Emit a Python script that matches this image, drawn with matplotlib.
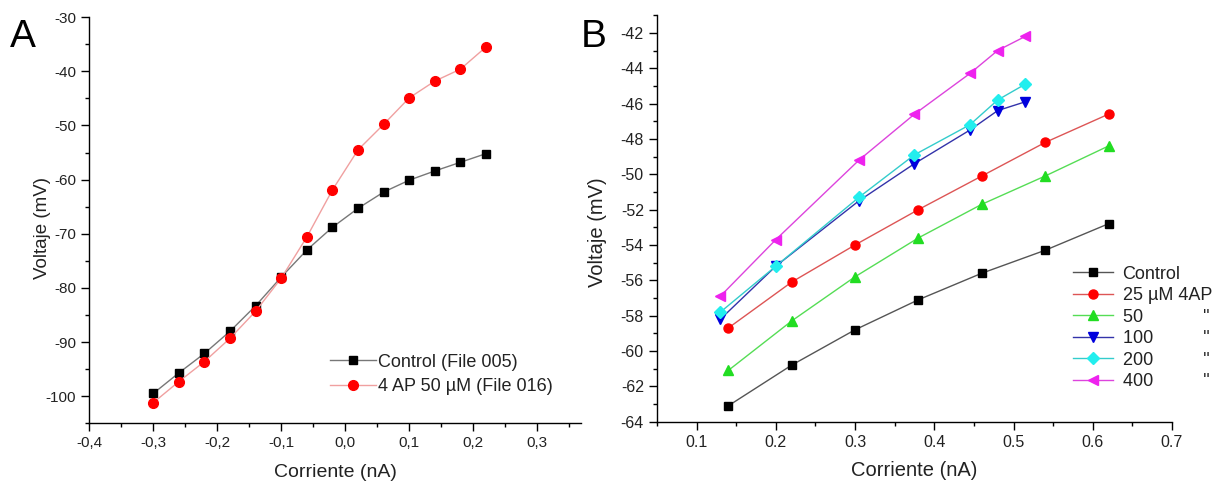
import matplotlib
matplotlib.use("Agg")
import matplotlib.pyplot as plt
from matplotlib.ticker import MultipleLocator, FuncFormatter

plt.rcParams["font.family"] = ["Liberation Sans", "DejaVu Sans"]

# ---- panel A data ----
a_current = [-0.30, -0.26, -0.22, -0.18, -0.14, -0.10, -0.06,
             -0.02, 0.02, 0.06, 0.10, 0.14, 0.18, 0.22]
a_control = [-99.5, -95.7, -92.1, -88.0, -83.3, -78.0, -73.0,
             -68.8, -65.3, -62.3, -60.1, -58.4, -56.8, -55.2]
a_4ap = [-101.2, -97.3, -93.6, -89.3, -84.3, -78.2, -70.6,
         -61.9, -54.5, -49.8, -44.9, -41.8, -39.6, -35.5]
a_labels = ["Control (File 005)", "4 AP 50 \u00b5M (File 016)"]

# ---- panel B data ----
b_current_low = [0.14, 0.22, 0.30, 0.38, 0.46, 0.54, 0.62]
b_current_high = [0.13, 0.20, 0.305, 0.375, 0.445, 0.48, 0.515]
b_control = [-63.1, -60.8, -58.8, -57.1, -55.6, -54.3, -52.8]
b_25 = [-58.7, -56.1, -54.0, -52.0, -50.1, -48.2, -46.6]
b_50 = [-61.1, -58.3, -55.8, -53.6, -51.7, -50.1, -48.4]
b_100 = [-58.2, -55.2, -51.5, -49.4, -47.5, -46.4, -45.9]
b_200 = [-57.8, -55.2, -51.3, -48.9, -47.2, -45.8, -44.9]
b_400 = [-56.9, -53.7, -49.2, -46.6, -44.3, -43.0, -42.2]
b_labels = ["Control", "25 \u00b5M 4AP",
            "50" + " " * 12 + "\"",
            "100" + " " * 10 + "\"",
            "200" + " " * 10 + "\"",
            "400" + " " * 10 + "\""]

fig = plt.figure(figsize=(12.18, 4.84), dpi=100)
fig.patch.set_facecolor("white")

txt = "#222222"


def style_axes(ax, size):
    for s in ("top", "right"):
        ax.spines[s].set_visible(False)
    for s in ("left", "bottom"):
        ax.spines[s].set_linewidth(1.0)
    ax.tick_params(which="major", direction="out", length=5.5, width=1,
                   labelsize=size, colors="black", labelcolor=txt, pad=4)
    ax.tick_params(which="minor", direction="out", length=3, width=1)


# ---------------- panel A ----------------
axA = fig.add_axes([0.0733, 0.1255, 0.4035, 0.839])
axA.plot(a_current, a_control, color="#777777", lw=1.0, marker="s",
         ms=6, mfc="black", mec="black", label=a_labels[0])
axA.plot(a_current, a_4ap, color="#f0a0a0", lw=1.0, marker="o",
         ms=7, mfc="red", mec="red", label=a_labels[1])
axA.set_xlim(-0.4, 0.368)
axA.set_ylim(-105, -30)
axA.xaxis.set_major_locator(MultipleLocator(0.1))
axA.xaxis.set_minor_locator(MultipleLocator(0.05))
axA.yaxis.set_major_locator(MultipleLocator(10))
axA.yaxis.set_minor_locator(MultipleLocator(5))
axA.xaxis.set_major_formatter(
    FuncFormatter(lambda v, p: f"{v:.1f}".replace(".", ",").replace("-0,0", "0,0")))
axA.yaxis.set_major_formatter(FuncFormatter(lambda v, p: f"{v:.0f}"))
style_axes(axA, 11)
axA.set_xlabel("Corriente (nA)", fontsize=14, color=txt)
axA.xaxis.set_label_coords(0.5, -0.1)
axA.set_ylabel("Voltaje (mV)", fontsize=13.5, color=txt)
axA.yaxis.set_label_coords(-0.078, 0.482)
axA.legend(loc="lower left", bbox_to_anchor=(0.456, 0.03), frameon=False,
           fontsize=13, handlelength=2.55, handletextpad=0.15,
           labelspacing=0.4, labelcolor=txt)
fig.text(0.008, 0.903, "A", fontsize=28, color="black")

# ---------------- panel B ----------------
axB = fig.add_axes([0.5394, 0.1287, 0.4228, 0.840])
series_b = [
    (b_current_low, b_control, "black", "#555555", "s", 5.5),
    (b_current_low, b_25, "red", "#dd5555", "o", 6.5),
    (b_current_low, b_50, "#22dd22", "#55dd55", "^", 6.5),
    (b_current_high, b_100, "#0000dd", "#3333aa", "v", 6.5),
    (b_current_high, b_200, "#22eeee", "#33cccc", "D", 6.0),
    (b_current_high, b_400, "#ee22ee", "#dd44dd", "<", 6.5),
]
for (xs, ys, mc, lc, mk, ms), lab in zip(series_b, b_labels):
    axB.plot(xs, ys, color=lc, lw=1.0, marker=mk, ms=ms,
             mfc=mc, mec=mc, label=lab)
axB.set_xlim(0.05, 0.7)
axB.set_ylim(-64, -41)
axB.xaxis.set_major_locator(MultipleLocator(0.1))
axB.xaxis.set_minor_locator(MultipleLocator(0.05))
axB.yaxis.set_major_locator(MultipleLocator(2))
axB.yaxis.set_minor_locator(MultipleLocator(1))
axB.xaxis.set_major_formatter(
    FuncFormatter(lambda v, p: "" if v < 0.09 else f"{v:.1f}"))
axB.yaxis.set_major_formatter(FuncFormatter(lambda v, p: f"{v:.0f}"))
style_axes(axB, 11.5)
axB.set_xlabel("Corriente (nA)", fontsize=14.5, color=txt)
axB.xaxis.set_label_coords(0.5, -0.097)
axB.set_ylabel("Voltaje (mV)", fontsize=14.5, color=txt)
axB.yaxis.set_label_coords(-0.098, 0.465)
axB.legend(loc="upper left", bbox_to_anchor=(0.776, 0.424), frameon=False,
           fontsize=13, handlelength=2.2, handletextpad=0.55,
           labelspacing=0.25, labelcolor=txt)
fig.text(0.477, 0.903, "B", fontsize=28, color="black")

fig.savefig("out.png", dpi=100, facecolor="white")
